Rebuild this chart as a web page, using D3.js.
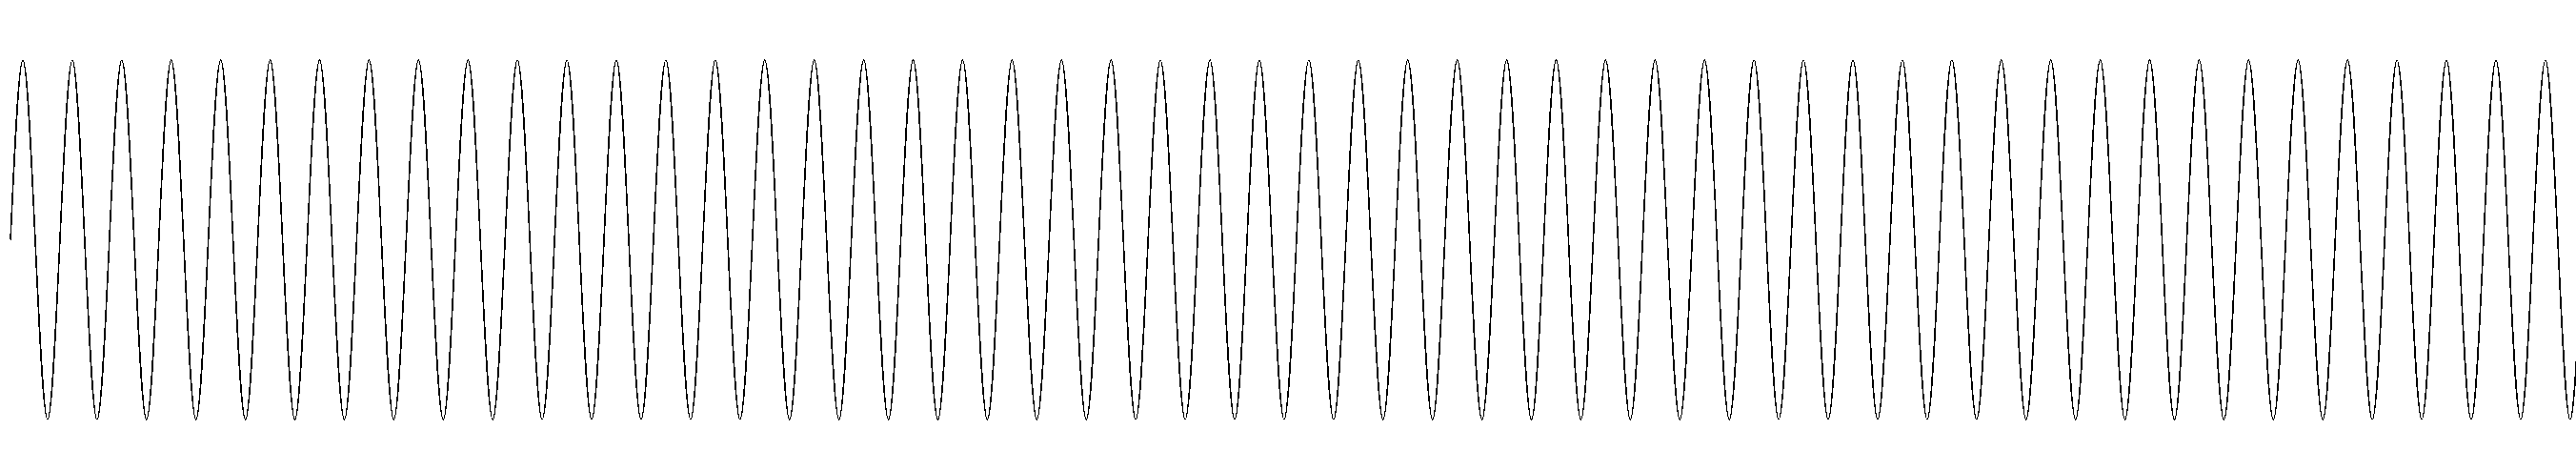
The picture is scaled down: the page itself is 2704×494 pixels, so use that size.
<!DOCTYPE html>
<html>
<head>
<meta charset="utf-8">
<script src="https://cdn.jsdelivr.net/npm/d3@7"></script>
<style>
html,body{margin:0;padding:0;background:#fff;}
svg{display:block;}
</style>
</head>
<body>
<div id="chart"></div>
<script>
// Cycle positions (in periods) sampled at quarter periods, and the signal value read at each
const stepTicks = [0, 52];            // x domain in periods
const signalValues = [
 0,1,0,-1, 0,1,0,-1, 0,1,0,-1, 0,1,0,-1, 0,1,0,-1, 0,1,0,-1, 0,1,0,-1, 0,1,0,-1,
 0,1,0,-1, 0,1,0,-1, 0,1,0,-1, 0,1,0,-1, 0,1,0,-1, 0,1,0,-1, 0,1,0,-1, 0,1,0,-1,
 0,1,0,-1, 0,1,0,-1, 0,1,0,-1, 0,1,0,-1, 0,1,0,-1, 0,1,0,-1, 0,1,0,-1, 0,1,0,-1,
 0,1,0,-1, 0,1,0,-1, 0,1,0,-1, 0,1,0,-1, 0,1,0,-1, 0,1,0,-1, 0,1,0,-1, 0,1,0,-1,
 0,1,0,-1, 0,1,0,-1, 0,1,0,-1, 0,1,0,-1, 0,1,0,-1, 0,1,0,-1, 0,1,0,-1, 0,1,0,-1,
 0,1,0,-1, 0,1,0,-1, 0,1,0,-1, 0,1,0,-1, 0,1,0,-1, 0,1,0,-1, 0,1,0,-1, 0,1,0,-1,
 0,1,0,-1, 0,1,0,-1, 0,1,0,-1, 0,1,0,-1,
 0
];
const valueDomain = [-1, 1];

const W = 2704, H = 494;
const svg = d3.select("#chart").append("svg").attr("width", W).attr("height", H);

const x = d3.scaleLinear().domain(stepTicks).range([11, 11 + 52 * 51.92]);
const y = d3.scaleLinear().domain(valueDomain).range([440, 63]);

const pts = signalValues.map((v, i) => ({t: i * (stepTicks[1] / (signalValues.length - 1)), v}));

const line = d3.line().x(d => x(d.t)).y(d => y(d.v)).curve(d3.curveNatural);

svg.append("path")
  .datum(pts)
  .attr("d", line)
  .attr("fill", "none")
  .attr("stroke", "#000")
  .attr("stroke-width", 1.6)
  .attr("shape-rendering", "crispEdges");
</script>
</body>
</html>
